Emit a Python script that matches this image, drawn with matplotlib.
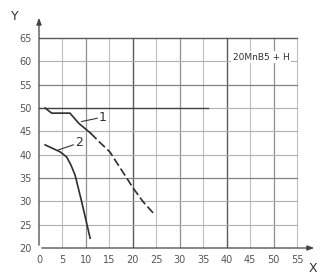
import matplotlib
matplotlib.use("Agg")
import matplotlib.pyplot as plt

# Data
curve1_solid_x = [1.3, 2.7, 6.6, 8.5, 11.0]
curve1_solid_y = [50.0, 48.9, 48.9, 46.7, 44.6]
curve1_dash_x = [11.0, 13.0, 15.1, 17.6, 20.1, 22.2, 24.7]
curve1_dash_y = [44.6, 42.6, 40.6, 36.7, 32.8, 29.9, 27.1]
curve2_x = [1.3, 3.0, 4.5, 5.9, 6.8, 7.7, 9.1, 10.9]
curve2_y = [42.1, 41.3, 40.6, 39.5, 37.8, 35.6, 29.9, 22.1]
ref_x = [0, 36]
ref_y = [50, 50]
xticks = list(range(0, 60, 5))
yticks = list(range(20, 70, 5))

fig = plt.figure(figsize=(3.29, 2.76), dpi=100)
W, H = 329, 276
x0p, x1p = 39, 317
y0p, y1p = 248, 15
ax = fig.add_axes([x0p / W, (H - y0p) / H, (x1p - x0p) / W, (y0p - y1p) / H])
XMAX = 55 * (x1p - x0p) / (297 - 39)
YMAX = 20 + 45 * (y0p - y1p) / (248 - 38)
ax.set_xlim(0, XMAX)
ax.set_ylim(20, YMAX)
for s in ax.spines.values():
    s.set_visible(False)

# grid
for xv in xticks[1:]:
    if xv in (20, 40):
        c, lw = "#5a5a5a", 1.0
    elif xv % 10 == 0:
        c, lw = "#909090", 0.9
    else:
        c, lw = "#c0c0c0", 0.8
    ax.plot([xv, xv], [20, 65], color=c, lw=lw, zorder=1)
for yv in yticks[1:]:
    if yv == 65:
        c, lw = "#5a5a5a", 1.0
    elif yv in (35, 55):
        c, lw = "#808080", 0.9
    else:
        c, lw = "#b0b0b0", 0.8
    ax.plot([0, 55], [yv, yv], color=c, lw=lw, zorder=1)

ax.plot(ref_x, ref_y, color="#444444", lw=1.0, zorder=2)

# axes with arrows
ax.annotate("", xy=(XMAX, 20), xytext=(0, 20),
            arrowprops=dict(arrowstyle="-|>,head_length=0.4,head_width=0.15", color="#444444", lw=0.9),
            annotation_clip=False)
ax.annotate("", xy=(0, YMAX), xytext=(0, 20),
            arrowprops=dict(arrowstyle="-|>,head_length=0.4,head_width=0.15", color="#444444", lw=0.9),
            annotation_clip=False)

ax.plot(curve1_solid_x, curve1_solid_y, color="#2e2e2e", lw=1.2, zorder=3)
ax.plot(curve1_dash_x, curve1_dash_y, color="#2e2e2e", lw=1.2, ls=(0, (5, 2)), zorder=3)
ax.plot(curve2_x, curve2_y, color="#2e2e2e", lw=1.2, zorder=3)

# labels 1 and 2 with leaders
ax.plot([9.1, 12.4], [47.1, 47.8], color="#333333", lw=0.8, zorder=3)
ax.text(12.7, 47.9, "1", fontsize=9, color="#333333", va="center", ha="left")
ax.plot([4.1, 7.3], [41.0, 42.1], color="#333333", lw=0.8, zorder=3)
ax.text(7.6, 42.6, "2", fontsize=9, color="#333333", va="center", ha="left")

ax.text(41.3, 60.9, "20MnB5 + H", fontsize=6.5, color="#333333", va="center", ha="left",
        bbox=dict(boxstyle="square,pad=0.15", fc="white", ec="none"), zorder=4)

ax.set_xticks(xticks)
ax.set_yticks(yticks)
ax.tick_params(length=0, labelsize=7, labelcolor="#555555", pad=5)
ax.set_xticklabels([str(v) for v in xticks])
ax.set_yticklabels([str(v) for v in yticks])

fig.text(15 / W, 1 - 17 / H, "Y", fontsize=9, color="#333333", ha="center", va="center")
fig.text(313 / W, 1 - 268 / H, "X", fontsize=9, color="#333333", ha="center", va="center")

fig.savefig("out.png", dpi=100, facecolor="white")
